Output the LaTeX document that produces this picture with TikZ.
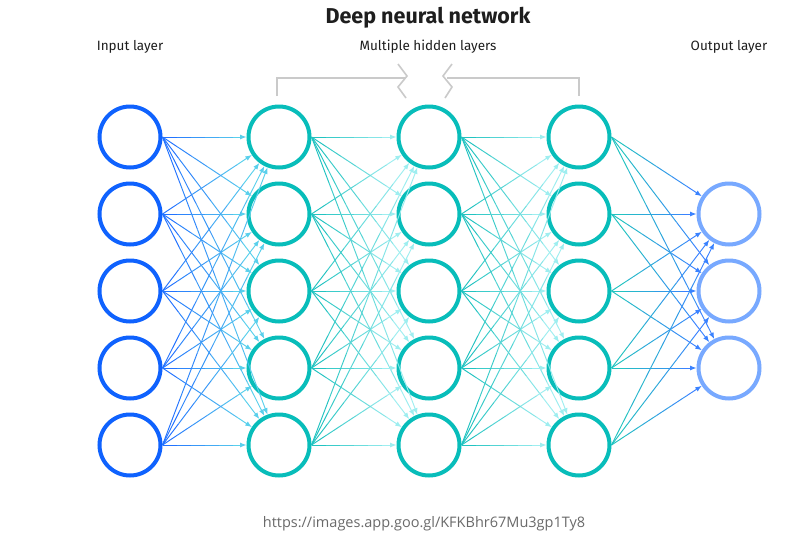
\documentclass[tikz,border=0pt]{standalone}
\usepackage{fontspec}
\setmainfont{Fira Sans}
\newfontfamily\urlfont{Open Sans}
\usetikzlibrary{calc,arrows.meta}
\definecolor{inblue}{HTML}{0F62FE}
\definecolor{hteal}{HTML}{08BDBA}
\definecolor{outblue}{HTML}{78A9FF}
\definecolor{edgestartblue}{HTML}{2373FF}
\definecolor{edgecyan}{HTML}{5AD0EC}
\definecolor{edgeteal}{HTML}{22C3C1}
\definecolor{edgelight}{HTML}{9EEEF0}
\definecolor{edgeblue}{HTML}{3A82FF}
\definecolor{bracketgray}{HTML}{CACACA}
\definecolor{textdark}{HTML}{1E1E1E}
\definecolor{urlgray}{HTML}{6A6A6A}
\tikzset{
  neuron/.style={circle, minimum size=61pt, inner sep=0pt, line width=4pt, fill=white},
  inneuron/.style={neuron, draw=inblue},
  hidneuron/.style={neuron, draw=hteal},
  outneuron/.style={neuron, draw=outblue},
  edge/.style={line width=0.95pt},
  lab/.style={font=\fontsize{13.5}{15}\selectfont, text=textdark},
  bracket/.style={draw=bracketgray, line width=1.6pt}
}
\newcommand\gedge[4]{%
  \path (#1.east) -- (#2) coordinate[pos=0] (gs) coordinate[pos=1] (ge);
  \foreach \k in {0,...,5}{%
    \pgfmathtruncatemacro\pc{\k*20}%
    \ifnum\k<5
      \draw[edge,draw=#4!\pc!#3] ($(gs)!\k/6!(ge)$) -- ($(gs)!{(\k+1)/6}!(ge)$);
    \else
      \draw[edge,draw=#4!\pc!#3,-{Latex[length=6.5pt,width=5pt]}] ($(gs)!\k/6!(ge)$) -- (ge);
    \fi
  }%
}
\begin{document}
\begin{tikzpicture}[x=1pt,y=-1pt]
\useasboundingbox[fill=white] (0,0) rectangle (809,558);
% titles
\node[font=\bfseries\fontsize{21.5}{24}\selectfont, text=textdark] (title) at (428,18) {Deep neural network};
\node[lab] (lin) at (130,47) {Input layer};
\node[lab] (lhid) at (428,47) {Multiple hidden layers};
\node[lab] (lout) at (729,47) {Output layer};
\node[font=\urlfont\fontsize{14.5}{16}\selectfont, text=urlgray] (url) at (424,524) {https://images.app.goo.gl/KFKBhr67Mu3gp1Ty8};
% bracket
\draw[bracket] (277,96) -- (277,78) -- (406,78);
\draw[bracket] (398,64) -- (407,76) -- (398,87) -- (406,98);
\draw[bracket] (452,64) -- (443,76) -- (452,87) -- (445,98);
\draw[bracket] (447,78) -- (579,78) -- (579,96);
% neurons
\foreach \n/\y in {1/137,2/214,3/291,4/368,5/445}{
  \node[inneuron] (i\n) at (130,\y) {};
  \node[hidneuron] (a\n) at (279,\y) {};
  \node[hidneuron] (b\n) at (429,\y) {};
  \node[hidneuron] (c\n) at (579,\y) {};
}
\foreach \n/\y in {1/214,2/291,3/368}{
  \node[outneuron] (o\n) at (729,\y) {};
}
% connections
\foreach \s in {1,...,5}{\foreach \t in {1,...,5}{\gedge{i\s}{a\t}{edgestartblue}{edgecyan}}}
\foreach \s in {1,...,5}{\foreach \t in {1,...,5}{\gedge{a\s}{b\t}{edgeteal}{edgelight}}}
\foreach \s in {1,...,5}{\foreach \t in {1,...,5}{\gedge{b\s}{c\t}{edgeteal}{edgelight}}}
\foreach \s in {1,...,5}{\foreach \t in {1,...,3}{\gedge{c\s}{o\t}{edgeteal}{edgeblue}}}
\end{tikzpicture}
\end{document}
